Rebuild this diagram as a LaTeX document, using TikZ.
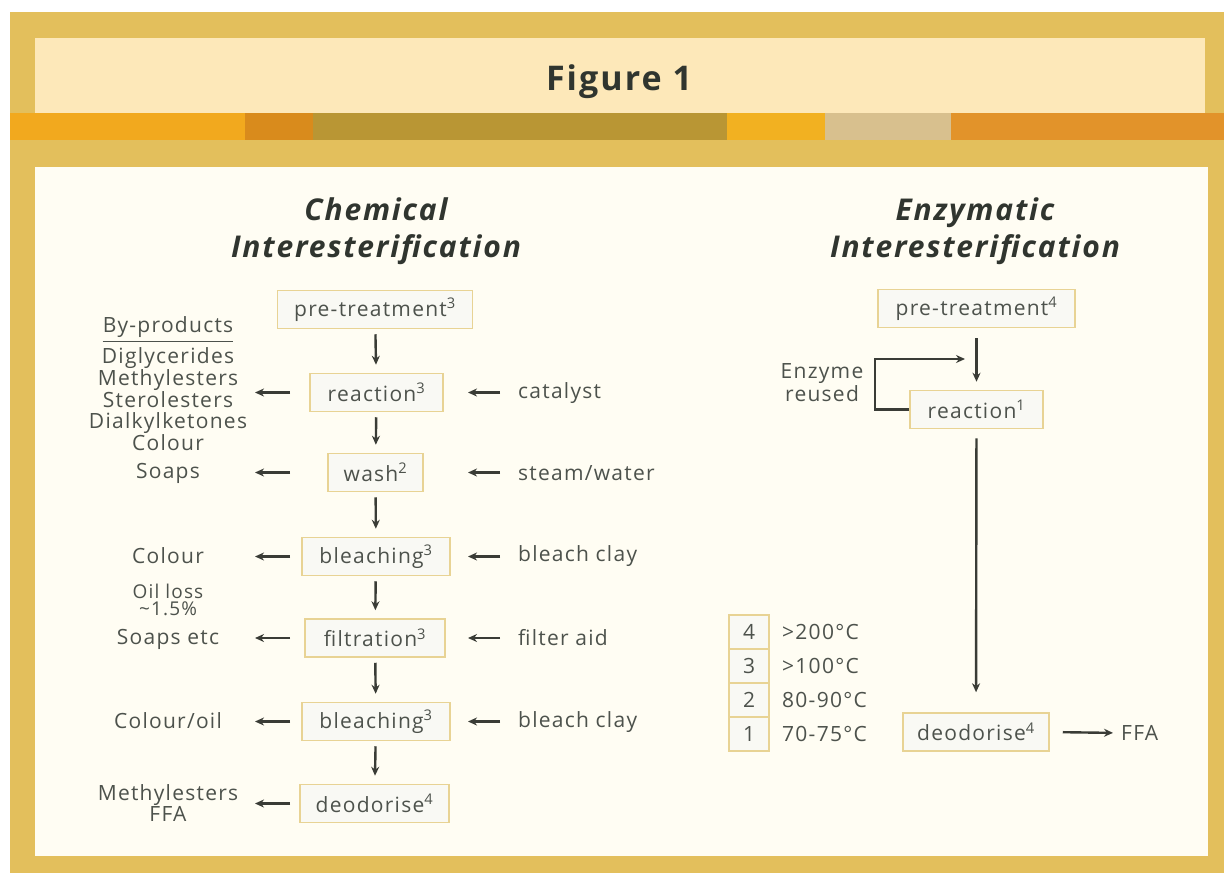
\documentclass[tikz,border=0pt]{standalone}
\usepackage{fontspec}
\setmainfont{Open Sans}[LetterSpace=6]
\usetikzlibrary{arrows.meta}
\definecolor{gold}{HTML}{E3BF5C}
\definecolor{hdr}{HTML}{FDE8B9}
\definecolor{panel}{HTML}{FFFDF3}
\definecolor{sA}{HTML}{F2A91E}
\definecolor{sB}{HTML}{D98B1C}
\definecolor{sC}{HTML}{B99634}
\definecolor{sD}{HTML}{F2B121}
\definecolor{sE}{HTML}{D8C08E}
\definecolor{sF}{HTML}{E2932A}
\definecolor{boxline}{HTML}{E8D394}
\definecolor{boxfill}{HTML}{F9F9F4}
\definecolor{txt}{HTML}{4D524C}
\definecolor{ttl}{HTML}{30352F}
\definecolor{arrc}{HTML}{3A3C36}
\tikzset{
  stepbox/.style={draw=boxline, line width=1.5pt, fill=boxfill, minimum height=38pt, inner sep=0pt,
    font=\fontsize{21}{24}\selectfont, text=txt},
  lbl/.style={font=\fontsize{21}{20.5}\selectfont, text=txt, inner sep=0pt, align=center},
  ttlstyle/.style={font=\fontsize{30}{37}\selectfont\bfseries\itshape, text=ttl, inner sep=0pt, align=center},
  arr/.style={draw=arrc, line width=2.4pt, -{Stealth[length=9pt,width=8pt]}},
  legbox/.style={draw=boxline, line width=1.5pt, fill=boxfill, minimum width=40pt, minimum height=34pt,
    inner sep=0pt, font=\fontsize{21}{24}\selectfont, text=txt}
}
\begin{document}
\begin{tikzpicture}[x=1pt,y=-1pt]
\useasboundingbox (0,0) rectangle (1224,873);
\fill[white] (0,0) rectangle (1224,873);
\fill[gold] (10,12) rectangle (1224,873);
\fill[hdr] (35,38) rectangle (1205,113);
\fill[sA] (10,113) rectangle (245,140);
\fill[sB] (245,113) rectangle (313,140);
\fill[sC] (313,113) rectangle (727,140);
\fill[sD] (727,113) rectangle (825,140);
\fill[sE] (825,113) rectangle (951,140);
\fill[sF] (951,113) rectangle (1224,140);
\fill[panel] (35,167) rectangle (1208,856);

\node[font=\fontsize{34}{40}\selectfont\bfseries, text=ttl, inner sep=0pt] (fig) at (619,82) {Figure 1};

% titles
\node[ttlstyle] (tchem) at (376,231) {Chemical\\Interesterification};
\node[ttlstyle] (tenz) at (975,231) {Enzymatic\\Interesterification};

% chemical column
\node[stepbox, minimum width=195pt] (pre1) at (375,309.5) {pre-treatment\textsuperscript{3}};
\node[stepbox, minimum width=133pt] (react1) at (376.5,392.5) {reaction\textsuperscript{3}};
\node[stepbox, minimum width=95pt] (wash) at (375.5,472.5) {wash\textsuperscript{2}};
\node[stepbox, minimum width=148pt] (bl1) at (376,556.5) {bleaching\textsuperscript{3}};
\node[stepbox, minimum width=140pt] (filt) at (375,638) {filtration\textsuperscript{3}};
\node[stepbox, minimum width=148pt] (bl2) at (376,721.5) {bleaching\textsuperscript{3}};
\node[stepbox, minimum width=149pt] (deo1) at (374.5,803.5) {deodorise\textsuperscript{4}};

\foreach \a/\b in {pre1/react1, react1/wash, wash/bl1, bl1/filt, filt/bl2, bl2/deo1}
  \draw[arr, shorten <=5pt, shorten >=8pt] (\a) -- (\b);

% left labels
\node[lbl] (byp) at (168,327) {By-products};
\draw[txt, line width=1.2pt] ([yshift=-4pt]byp.south west) -- ([yshift=-4pt]byp.south east);
\node[lbl, font=\fontsize{21}{20.7}\selectfont] (bp1) at (168,399) {Diglycerides\\Methylesters\\Sterolesters\\Dialkylketones\\Colour};
\node[lbl] (bp2) at (168,473) {Soaps};
\node[lbl] (bp3) at (168,556) {Colour};
\node[lbl, font=\fontsize{19}{17}\selectfont] (oil) at (168,600) {Oil loss\\\textasciitilde1.5\%};
\node[lbl] (bp4) at (168,639) {Soaps etc};
\node[lbl] (bp5) at (168,721) {Colour/oil};
\node[lbl, font=\fontsize{21}{19}\selectfont] (bp6) at (168,803) {Methylesters\\FFA};

% right labels
\node[lbl, anchor=west] (in1) at (518,393) {catalyst};
\node[lbl, anchor=west] (in2) at (518,473) {steam/water};
\node[lbl, anchor=west] (in3) at (518,556) {bleach clay};
\node[lbl, anchor=west] (in4) at (518,638) {filter aid};
\node[lbl, anchor=west] (in5) at (518,722) {bleach clay};

\coordinate (L1) at (290,0);
\coordinate (L2) at (255,0);
\coordinate (R1) at (500,0);
\coordinate (R2) at (468,0);
\foreach \n in {react1, wash, bl1, filt, bl2, deo1}
  \draw[arr] (\n -| L1) -- (\n -| L2);
\foreach \n in {react1, wash, bl1, filt, bl2}
  \draw[arr] (\n -| R1) -- (\n -| R2);

% enzymatic column
\node[stepbox, minimum width=197pt] (pre2) at (976.5,308.5) {pre-treatment\textsuperscript{4}};
\node[stepbox, minimum width=133pt] (react2) at (976.5,409.5) {reaction\textsuperscript{1}};
\node[stepbox, minimum width=146pt] (deo2) at (976,732) {deodorise\textsuperscript{4}};
\node[lbl, anchor=west] (ffa) at (1121,733) {FFA};
\node[lbl, font=\fontsize{21}{23}\selectfont] (enz) at (822,383) {Enzyme\\reused};

\draw[arr, shorten <=10pt, shorten >=8pt] (pre2) -- (react2);
\draw[arr, shorten <=9pt, shorten >=20pt] (react2) -- (deo2);
\draw[arr, shorten <=13pt, shorten >=8pt] (deo2.east) -- (ffa.west);
\coordinate (loopL) at (875,359);
\coordinate (loopT) at (965,359);
\draw[arr] (react2.west) -| (loopL) -- (loopT);

% legend
\node[legbox] (k4) at (749,632) {4};
\node[legbox] (k3) at (749,666) {3};
\node[legbox] (k2) at (749,700) {2};
\node[legbox] (k1) at (749,734) {1};
\node[lbl, anchor=west] (t4) at (782,632) {>200°C};
\node[lbl, anchor=west] (t3) at (782,666) {>100°C};
\node[lbl, anchor=west] (t2) at (782,700) {80-90°C};
\node[lbl, anchor=west] (t1) at (782,734) {70-75°C};
\end{tikzpicture}
\end{document}
